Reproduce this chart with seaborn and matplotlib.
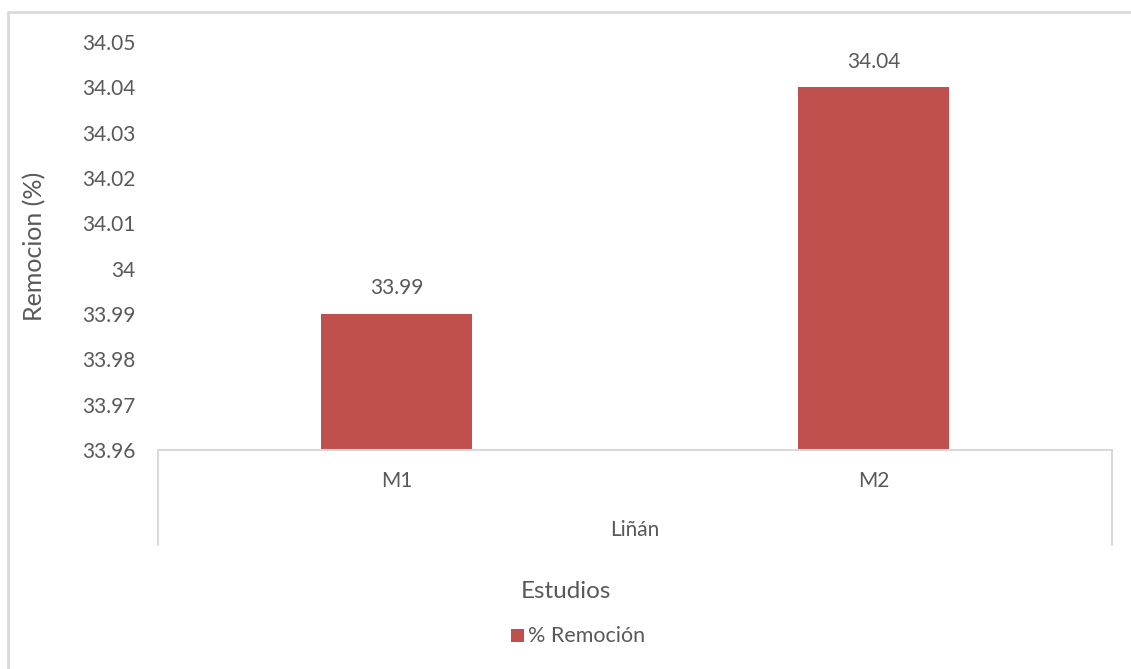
import matplotlib
matplotlib.use("Agg")
import matplotlib.pyplot as plt
import matplotlib.transforms as mtransforms
from matplotlib.lines import Line2D
from matplotlib.patches import Rectangle
import seaborn as sns
import pandas as pd

# ---- data ----
categories = ["M1", "M2"]
group_label = "Liñán"
values = [33.99, 34.04]
value_labels = ["33.99", "34.04"]
y_ticks = [33.96, 33.97, 33.98, 33.99, 34.0, 34.01, 34.02, 34.03, 34.04, 34.05]
y_tick_labels = ["33.96", "33.97", "33.98", "33.99", "34", "34.01", "34.02", "34.03", "34.04", "34.05"]
series_name = "% Remoción"
x_title = "Estudios"
y_title = "Remocion (%)"

sns.set_theme(style="white")
plt.rcParams["font.family"] = ["Lato", "DejaVu Sans"]

W, H = 1131, 669
fig = plt.figure(figsize=(W / 100, H / 100), dpi=100)
fig.patch.set_facecolor("white")

def fx(px):
    return px / W

def fy(py):
    return 1 - py / H

ax = fig.add_axes([fx(158), fy(450), fx(1112) - fx(158), fy(42) - fy(450)])

df = pd.DataFrame({"cat": categories, "val": values})
bar_color = "#C0504D"
text_color = "#595959"
line_color = "#D9D9D9"

sns.barplot(data=df, x="cat", y="val", color=bar_color, width=0.315,
            saturation=1, ax=ax, edgecolor=bar_color, linewidth=0)

ax.set_ylim(33.96, 34.05)
ax.set_xlim(-0.5, 1.5)
ax.set_yticks(y_ticks)
ax.set_yticklabels(y_tick_labels, color=text_color, fontsize=15)
ax.tick_params(axis="y", length=0, pad=16)
ax.set_xticks([])
ax.set_xlabel("")
ax.set_ylabel("")
for side in ["top", "right", "left"]:
    ax.spines[side].set_visible(False)
ax.spines["bottom"].set_color(line_color)
ax.spines["bottom"].set_linewidth(1.5)

# data labels
for i, (v, lab) in enumerate(zip(values, value_labels)):
    ax.annotate(lab, (i, v), xytext=(0, 18.5), textcoords="offset points",
                ha="center", va="center", fontsize=15, color=text_color)

# multi-level category axis
trans = mtransforms.blended_transform_factory(ax.transData, fig.transFigure)
for i, c in enumerate(categories):
    ax.text(i, fy(481), c, transform=trans, ha="center", va="center",
            fontsize=15, color=text_color)
ax.text(0.5, fy(530), group_label, transform=trans, ha="center", va="center",
        fontsize=15, color=text_color)

for xp in [158, 1112]:
    fig.add_artist(Line2D([fx(xp), fx(xp)], [fy(450), fy(545)],
                          color=line_color, linewidth=1.5))

# axis titles
fig.text(fx(566), fy(591), x_title, ha="center", va="center",
         fontsize=17.5, color=text_color)
fig.text(fx(35), fy(246), y_title, ha="center", va="center", rotation=90,
         fontsize=18, color=text_color)

# legend
fig.add_artist(Rectangle((fx(511), fy(642)), fx(524) - fx(511), fy(629) - fy(642),
                         transform=fig.transFigure, facecolor=bar_color,
                         edgecolor="none"))
fig.text(fx(528), fy(636), series_name, ha="left", va="center",
         fontsize=15.5, color=text_color)

# chart-area border (left and top visible)
fig.add_artist(Line2D([fx(8), fx(8)], [fy(12), 0], color=line_color, linewidth=2))
fig.add_artist(Line2D([fx(8), 1], [fy(12), fy(12)], color=line_color, linewidth=2))

fig.savefig("out.png", dpi=100, facecolor="white")
